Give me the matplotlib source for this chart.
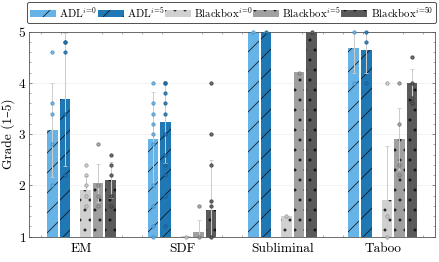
import matplotlib
matplotlib.use("Agg")
import matplotlib.pyplot as plt
from matplotlib.patches import Patch
from matplotlib.ticker import AutoMinorLocator, MultipleLocator
import numpy as np

plt.rcParams['font.family'] = ['cmr10', 'DejaVu Serif']
plt.rcParams['mathtext.fontset'] = 'cm'
plt.rcParams['axes.formatter.use_mathtext'] = True
plt.rcParams['hatch.linewidth'] = 1.1

# ---------------- data ----------------
categories = ["EM", "SDF", "Subliminal", "Taboo"]
series_labels = [r"ADL$^{i\!=\!0}$", r"ADL$^{i\!=\!5}$", r"Blackbox$^{i\!=\!0}$",
                 r"Blackbox$^{i\!=\!5}$", r"Blackbox$^{i\!=\!50}$"]

adl0_mean = [3.08, 2.91, 5.00, 4.68]
adl5_mean = [3.68, 3.23, 5.00, 4.64]
bb0_mean = [1.91, 1.02, 1.40, 1.72]
bb5_mean = [2.04, 1.10, 4.22, 2.91]
bb50_mean = [2.11, 1.52, 5.00, 3.99]

adl0_err = [0.92, 0.91, 0.0, 0.48]
adl5_err = [1.30, 0.80, 0.0, 0.44]
bb0_err = [0.27, 0.00, 0.0, 1.04]
bb5_err = [0.37, 0.23, 0.0, 0.60]
bb50_err = [0.35, 0.98, 0.0, 0.28]

adl0_pts = [[4.6, 3.6, 3.4, 2.8, 2.0],
            [4.0, 3.6, 3.4, 3.2, 3.0, 2.8, 2.0, 1.6, 1.2, 1.0],
            [5.0],
            [5.0, 4.0]]
adl5_pts = [[4.8, 4.8, 4.6, 3.4, 2.2],
            [4.0, 4.0, 3.8, 3.6, 3.4, 3.0, 2.6, 2.4, 2.2, 1.8, 1.2],
            [5.0],
            [5.0, 4.8, 4.0]]
bb0_pts = [[2.4, 2.2, 2.0, 1.8, 1.6],
           [1.0],
           [1.4],
           [4.0, 1.4, 1.0]]
bb5_pts = [[2.8, 2.0, 1.8, 1.6],
           [1.6, 1.0],
           [4.2],
           [4.0, 3.2, 2.4, 2.2]]
bb50_pts = [[2.6, 2.4, 2.2, 1.8, 1.6],
            [4.0, 3.0, 2.4, 1.7, 1.6, 1.0],
            [5.0],
            [4.5, 4.0, 3.7, 3.6]]

# ---------------- style ----------------
means = [adl0_mean, adl5_mean, bb0_mean, bb5_mean, bb50_mean]
errs = [adl0_err, adl5_err, bb0_err, bb5_err, bb50_err]
pts = [adl0_pts, adl5_pts, bb0_pts, bb5_pts, bb50_pts]
colors = ["#66b3e8", "#1f77b4", "#d0d0d0", "#a0a0a0", "#5a5a5a"]
pt_edge = ["#3d86c0", "#14578a", "#8c8c8c", "#6a6a6a", "#2e2e2e"]
hatches = ["/", "/", ".", ".", "."]
hatch_col = ["#1a2a3a", "#0d1f2e", "#222222", "#1a1a1a", "#111111"]
offsets = [-0.29, -0.165, 0.04, 0.165, 0.29]
width = 0.105

DPI = 60
fig = plt.figure(figsize=(439 / DPI, 262 / DPI), dpi=DPI)
ax = fig.add_axes([0.0667, 0.0966, 0.991 - 0.0667, 0.879 - 0.0966])

x = np.arange(len(categories))
handles = []
for s in range(5):
    xs = x + offsets[s]
    ax.bar(xs, means[s], width, color=colors[s], edgecolor=hatch_col[s],
           linewidth=0, hatch=hatches[s], zorder=2)
    ax.errorbar(xs, means[s], yerr=errs[s], fmt='none', ecolor="#cccccc",
                elinewidth=1.2, capsize=2.5, capthick=1.0, zorder=3)
    for i in range(len(categories)):
        p = pts[s][i]
        ax.scatter([xs[i]] * len(p), p, s=16, facecolor=colors[s],
                   edgecolor=pt_edge[s], linewidth=1.0, alpha=0.85,
                   zorder=4, clip_on=False)
    handles.append(Patch(facecolor=colors[s], edgecolor=hatch_col[s],
                         linewidth=0, hatch=hatches[s], label=series_labels[s]))

ax.set_xlim(-0.52, 3.52)
ax.set_ylim(1, 5)
ax.set_xticks(x)
ax.set_xticklabels(categories)
ax.yaxis.set_major_locator(MultipleLocator(1))
ax.yaxis.set_minor_locator(AutoMinorLocator(5))
ax.xaxis.set_minor_locator(MultipleLocator(0.2))
ax.set_ylabel("Grade (1–5)", fontsize=16, labelpad=4)
ax.tick_params(axis='both', which='both', direction='in', top=True, right=True,
               colors="#555555", labelcolor="black", labelsize=16)
ax.tick_params(axis='both', which='major', length=4, width=0.8)
ax.tick_params(axis='both', which='minor', length=2, width=0.6)
ax.tick_params(axis='x', which='major', length=0, pad=8)
ax.yaxis.grid(True, color="#eeeeee", linewidth=0.8, zorder=0)
ax.set_axisbelow(True)
for sp in ax.spines.values():
    sp.set_color("#555555")
    sp.set_linewidth(1.0)

fig.legend(handles=handles, loc='center', ncol=5, mode='expand',
           bbox_to_anchor=(0.0615, 0.916, 0.932, 0.0725), fontsize=13,
           frameon=True, fancybox=True, edgecolor="#333333", framealpha=1,
           handlelength=2.4, handleheight=0.7, handletextpad=0.3,
           columnspacing=0.6, borderpad=0.3, borderaxespad=0)

fig.savefig("out.png", dpi=DPI)
